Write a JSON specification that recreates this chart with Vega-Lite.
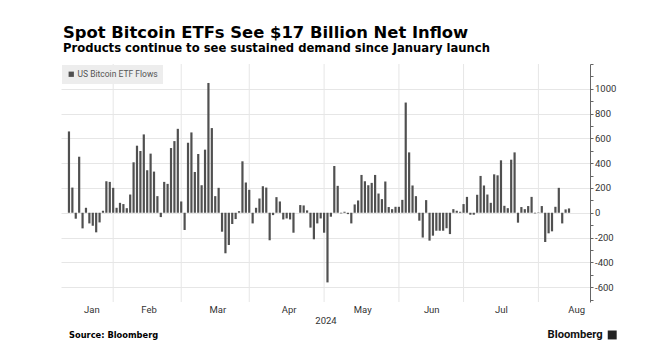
{
  "$schema": "https://vega.github.io/schema/vega-lite/v6.json",
  "width": 529,
  "height": 238,
  "autosize": {"type": "none"},
  "padding": {"left": 61, "top": 64, "right": 57, "bottom": 53},
  "background": "white",
  "title": {
    "text": "Spot Bitcoin ETFs See $17 Billion Net Inflow",
    "subtitle": "Products continue to see sustained demand since January launch",
    "anchor": "start",
    "frame": "group",
    "dx": 2,
    "offset": 4,
    "font": "DejaVu Sans",
    "fontSize": 16.4,
    "fontWeight": "bold",
    "color": "#000000",
    "subtitleFont": "DejaVu Sans",
    "subtitleFontSize": 11.6,
    "subtitleFontWeight": "bold",
    "subtitleColor": "#000000",
    "subtitlePadding": 2
  },
  "config": {
    "view": {"stroke": null},
    "axis": {"gridColor": "#e6e6e6", "gridWidth": 1}
  },
  "data": {
    "values": [
      {"i": 0, "date": "2024-01-11", "flow": 656},
      {"i": 1, "date": "2024-01-12", "flow": 203},
      {"i": 2, "date": "2024-01-16", "flow": -48},
      {"i": 3, "date": "2024-01-17", "flow": 452},
      {"i": 4, "date": "2024-01-18", "flow": -126},
      {"i": 5, "date": "2024-01-19", "flow": 40},
      {"i": 6, "date": "2024-01-22", "flow": -86},
      {"i": 7, "date": "2024-01-23", "flow": -104},
      {"i": 8, "date": "2024-01-24", "flow": -158},
      {"i": 9, "date": "2024-01-25", "flow": -78},
      {"i": 10, "date": "2024-01-26", "flow": 16},
      {"i": 11, "date": "2024-01-29", "flow": 254},
      {"i": 12, "date": "2024-01-30", "flow": 249},
      {"i": 13, "date": "2024-01-31", "flow": 201},
      {"i": 14, "date": "2024-02-01", "flow": 40},
      {"i": 15, "date": "2024-02-02", "flow": 80},
      {"i": 16, "date": "2024-02-05", "flow": 70},
      {"i": 17, "date": "2024-02-06", "flow": 37},
      {"i": 18, "date": "2024-02-07", "flow": 147},
      {"i": 19, "date": "2024-02-08", "flow": 407},
      {"i": 20, "date": "2024-02-09", "flow": 541},
      {"i": 21, "date": "2024-02-12", "flow": 498},
      {"i": 22, "date": "2024-02-13", "flow": 632},
      {"i": 23, "date": "2024-02-14", "flow": 343},
      {"i": 24, "date": "2024-02-15", "flow": 477},
      {"i": 25, "date": "2024-02-16", "flow": 332},
      {"i": 26, "date": "2024-02-20", "flow": 134},
      {"i": 27, "date": "2024-02-21", "flow": -35},
      {"i": 28, "date": "2024-02-22", "flow": 249},
      {"i": 29, "date": "2024-02-23", "flow": 233},
      {"i": 30, "date": "2024-02-26", "flow": 522},
      {"i": 31, "date": "2024-02-27", "flow": 578},
      {"i": 32, "date": "2024-02-28", "flow": 677},
      {"i": 33, "date": "2024-02-29", "flow": 91},
      {"i": 34, "date": "2024-03-01", "flow": -139},
      {"i": 35, "date": "2024-03-04", "flow": 565},
      {"i": 36, "date": "2024-03-05", "flow": 648},
      {"i": 37, "date": "2024-03-06", "flow": 329},
      {"i": 38, "date": "2024-03-07", "flow": 474},
      {"i": 39, "date": "2024-03-08", "flow": 222},
      {"i": 40, "date": "2024-03-11", "flow": 509},
      {"i": 41, "date": "2024-03-12", "flow": 1047},
      {"i": 42, "date": "2024-03-13", "flow": 683},
      {"i": 43, "date": "2024-03-14", "flow": 134},
      {"i": 44, "date": "2024-03-15", "flow": 201},
      {"i": 45, "date": "2024-03-18", "flow": -153},
      {"i": 46, "date": "2024-03-19", "flow": -327},
      {"i": 47, "date": "2024-03-20", "flow": -260},
      {"i": 48, "date": "2024-03-21", "flow": -91},
      {"i": 49, "date": "2024-03-22", "flow": -51},
      {"i": 50, "date": "2024-03-25", "flow": 13},
      {"i": 51, "date": "2024-03-26", "flow": 415},
      {"i": 52, "date": "2024-03-27", "flow": 244},
      {"i": 53, "date": "2024-03-28", "flow": 185},
      {"i": 54, "date": "2024-04-01", "flow": -86},
      {"i": 55, "date": "2024-04-02", "flow": 40},
      {"i": 56, "date": "2024-04-03", "flow": 115},
      {"i": 57, "date": "2024-04-04", "flow": 214},
      {"i": 58, "date": "2024-04-05", "flow": 203},
      {"i": 59, "date": "2024-04-08", "flow": -222},
      {"i": 60, "date": "2024-04-09", "flow": -19},
      {"i": 61, "date": "2024-04-10", "flow": 126},
      {"i": 62, "date": "2024-04-11", "flow": 91},
      {"i": 63, "date": "2024-04-12", "flow": -54},
      {"i": 64, "date": "2024-04-15", "flow": -46},
      {"i": 65, "date": "2024-04-16", "flow": -54},
      {"i": 66, "date": "2024-04-17", "flow": -161},
      {"i": 67, "date": "2024-04-18", "flow": 0},
      {"i": 68, "date": "2024-04-19", "flow": 62},
      {"i": 69, "date": "2024-04-22", "flow": 59},
      {"i": 70, "date": "2024-04-23", "flow": 19},
      {"i": 71, "date": "2024-04-24", "flow": -120},
      {"i": 72, "date": "2024-04-25", "flow": -214},
      {"i": 73, "date": "2024-04-26", "flow": -86},
      {"i": 74, "date": "2024-04-29", "flow": -46},
      {"i": 75, "date": "2024-04-30", "flow": -161},
      {"i": 76, "date": "2024-05-01", "flow": -562},
      {"i": 77, "date": "2024-05-02", "flow": -32},
      {"i": 78, "date": "2024-05-03", "flow": 377},
      {"i": 79, "date": "2024-05-06", "flow": 217},
      {"i": 80, "date": "2024-05-07", "flow": -5},
      {"i": 81, "date": "2024-05-08", "flow": 8},
      {"i": 82, "date": "2024-05-09", "flow": -11},
      {"i": 83, "date": "2024-05-10", "flow": -86},
      {"i": 84, "date": "2024-05-13", "flow": 67},
      {"i": 85, "date": "2024-05-14", "flow": 99},
      {"i": 86, "date": "2024-05-15", "flow": 305},
      {"i": 87, "date": "2024-05-16", "flow": 254},
      {"i": 88, "date": "2024-05-17", "flow": 222},
      {"i": 89, "date": "2024-05-20", "flow": 241},
      {"i": 90, "date": "2024-05-21", "flow": 305},
      {"i": 91, "date": "2024-05-22", "flow": 155},
      {"i": 92, "date": "2024-05-23", "flow": 110},
      {"i": 93, "date": "2024-05-24", "flow": 252},
      {"i": 94, "date": "2024-05-28", "flow": 46},
      {"i": 95, "date": "2024-05-29", "flow": 29},
      {"i": 96, "date": "2024-05-30", "flow": 48},
      {"i": 97, "date": "2024-05-31", "flow": 48},
      {"i": 98, "date": "2024-06-03", "flow": 104},
      {"i": 99, "date": "2024-06-04", "flow": 889},
      {"i": 100, "date": "2024-06-05", "flow": 487},
      {"i": 101, "date": "2024-06-06", "flow": 220},
      {"i": 102, "date": "2024-06-07", "flow": 134},
      {"i": 103, "date": "2024-06-10", "flow": -64},
      {"i": 104, "date": "2024-06-11", "flow": -200},
      {"i": 105, "date": "2024-06-12", "flow": 102},
      {"i": 106, "date": "2024-06-13", "flow": -225},
      {"i": 107, "date": "2024-06-14", "flow": -185},
      {"i": 108, "date": "2024-06-17", "flow": -145},
      {"i": 109, "date": "2024-06-18", "flow": -145},
      {"i": 110, "date": "2024-06-20", "flow": -145},
      {"i": 111, "date": "2024-06-21", "flow": -125},
      {"i": 112, "date": "2024-06-24", "flow": -172},
      {"i": 113, "date": "2024-06-25", "flow": 29},
      {"i": 114, "date": "2024-06-26", "flow": 16},
      {"i": 115, "date": "2024-06-27", "flow": 8},
      {"i": 116, "date": "2024-06-28", "flow": 70},
      {"i": 117, "date": "2024-07-01", "flow": 128},
      {"i": 118, "date": "2024-07-02", "flow": -16},
      {"i": 119, "date": "2024-07-03", "flow": -16},
      {"i": 120, "date": "2024-07-05", "flow": 145},
      {"i": 121, "date": "2024-07-08", "flow": 297},
      {"i": 122, "date": "2024-07-09", "flow": 220},
      {"i": 123, "date": "2024-07-10", "flow": 147},
      {"i": 124, "date": "2024-07-11", "flow": 80},
      {"i": 125, "date": "2024-07-12", "flow": 310},
      {"i": 126, "date": "2024-07-15", "flow": 302},
      {"i": 127, "date": "2024-07-16", "flow": 423},
      {"i": 128, "date": "2024-07-17", "flow": 56},
      {"i": 129, "date": "2024-07-18", "flow": 37},
      {"i": 130, "date": "2024-07-19", "flow": 428},
      {"i": 131, "date": "2024-07-22", "flow": 487},
      {"i": 132, "date": "2024-07-23", "flow": -80},
      {"i": 133, "date": "2024-07-24", "flow": 46},
      {"i": 134, "date": "2024-07-25", "flow": 29},
      {"i": 135, "date": "2024-07-26", "flow": 54},
      {"i": 136, "date": "2024-07-29", "flow": 128},
      {"i": 137, "date": "2024-07-30", "flow": -5},
      {"i": 138, "date": "2024-07-31", "flow": 3},
      {"i": 139, "date": "2024-08-01", "flow": 54},
      {"i": 140, "date": "2024-08-02", "flow": -236},
      {"i": 141, "date": "2024-08-05", "flow": -166},
      {"i": 142, "date": "2024-08-06", "flow": -150},
      {"i": 143, "date": "2024-08-07", "flow": 48},
      {"i": 144, "date": "2024-08-08", "flow": 201},
      {"i": 145, "date": "2024-08-09", "flow": -86},
      {"i": 146, "date": "2024-08-12", "flow": 27},
      {"i": 147, "date": "2024-08-13", "flow": 35}
    ]
  },
  "layer": [
    {
      "transform": [
        {"window": [{"op": "lead", "field": "date", "as": "next"}], "sort": [{"field": "i"}]},
        {"filter": "datum.next != null && substring(datum.date, 5, 7) != substring(datum.next, 5, 7)"}
      ],
      "mark": {"type": "rule", "color": "#e6e6e6", "strokeWidth": 1},
      "encoding": {
        "x": {"field": "i", "type": "quantitative", "scale": {"domain": [-0.87, 151.7], "nice": false, "zero": false}}
      }
    },
    {
      "mark": {"type": "bar", "size": 2.2},
      "encoding": {
        "x": {
          "field": "i",
          "type": "quantitative",
          "scale": {"domain": [-0.87, 151.7], "nice": false, "zero": false},
          "axis": {
            "values": [6.6, 23.4, 43.6, 64.6, 86.2, 106.5, 127, 149.1],
            "tickCount": 20,
            "labelExpr": "datum.value < 15 ? 'Jan' : datum.value < 33 ? 'Feb' : datum.value < 53 ? 'Mar' : datum.value < 75 ? 'Apr' : datum.value < 97 ? 'May' : datum.value < 116 ? 'Jun' : datum.value < 138 ? 'Jul' : 'Aug'",
            "labelFlush": false,
            "labelOverlap": false,
            "ticks": false,
            "domain": false,
            "grid": false,
            "labelPadding": 2,
            "labelFont": "Roboto",
            "labelFontSize": 9.5,
            "labelColor": "#333333",
            "title": "2024",
            "titleFont": "Roboto",
            "titleFontSize": 9.5,
            "titleFontWeight": "normal",
            "titleColor": "#333333",
            "titlePadding": 2
          }
        },
        "y": {
          "field": "flow",
          "type": "quantitative",
          "scale": {"domain": [-720, 1200], "nice": false, "zero": false},
          "axis": {
            "orient": "right",
            "title": null,
            "values": [-700, -600, -500, -400, -300, -200, -100, 0, 100, 200, 300, 400, 500, 600, 700, 800, 900, 1000, 1100, 1200],
            "tickCount": 40,
            "labelExpr": "(datum.value % 200 === 0 && datum.value >= -600 && datum.value <= 1000) ? toString(datum.value) : ''",
            "labelOverlap": false,
            "labelFont": "Roboto",
            "labelFontSize": 9.5,
            "labelColor": "#333333",
            "labelPadding": 1.5,
            "tickSize": 3,
            "tickColor": "#666666",
            "domainColor": "#666666",
            "grid": true,
            "gridOpacity": {"condition": {"test": "datum.value % 200 === 0 && datum.value < 1200 && datum.value > -700", "value": 1}, "value": 0}
          }
        },
        "color": {
          "datum": "US Bitcoin ETF Flows",
          "scale": {"range": ["#505050"]},
          "legend": {
            "title": null,
            "orient": "top-left",
            "offset": 1,
            "fillColor": "#ededed",
            "padding": 5,
            "symbolType": "square",
            "symbolSize": 28,
            "symbolStrokeWidth": 0,
            "labelFont": "Roboto",
            "labelFontSize": 8.5,
            "labelColor": "#555555",
            "labelOffset": 2
          }
        }
      }
    },
    {
      "data": {"values": [{"label": "Source: Bloomberg"}]},
      "mark": {"type": "text", "align": "left", "baseline": "middle", "font": "DejaVu Sans", "fontSize": 8.3, "fontWeight": "bold", "color": "#000000"},
      "encoding": {
        "text": {"field": "label"},
        "x": {"datum": 0, "type": "quantitative"},
        "y": {"datum": -992, "type": "quantitative"}
      }
    },
    {
      "data": {"values": [{"label": "Bloomberg"}]},
      "mark": {"type": "text", "align": "right", "baseline": "middle", "font": "Roboto", "fontSize": 11.2, "fontWeight": "bold", "color": "#111111"},
      "encoding": {
        "text": {"field": "label"},
        "x": {"datum": 156.9, "type": "quantitative"},
        "y": {"datum": -986, "type": "quantitative"}
      }
    },
    {
      "data": {"values": [{"label": "logo"}]},
      "mark": {"type": "point", "shape": "square", "filled": true, "size": 80, "color": "#222222", "opacity": 1},
      "encoding": {
        "x": {"datum": 159.7, "type": "quantitative"},
        "y": {"datum": -986, "type": "quantitative"}
      }
    }
  ]
}
